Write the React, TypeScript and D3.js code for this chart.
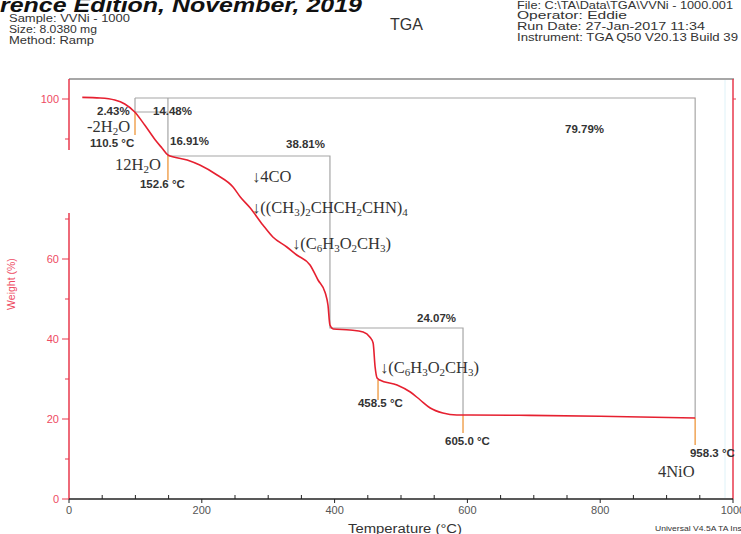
import React from "react";
import * as d3 from "d3";

// ---- data ----
const curveTemp = [20, 47, 69, 84, 99, 114, 130, 140, 149, 178, 197, 223, 247, 258, 273, 292, 307, 328, 343, 363, 375, 386, 390, 393, 398, 423, 443, 453, 458, 461, 464, 468, 494, 514, 529, 544, 563, 584, 604, 694, 800, 943];
const curveWeight = [100.4, 100.25, 99.75, 98.75, 96.75, 93.5, 89.75, 87.75, 86, 84.75, 83.5, 81, 78, 75.5, 72.75, 68.5, 65.5, 63, 61, 58.5, 54.75, 51.5, 48.5, 43.5, 42.5, 42.25, 41.75, 40.5, 39, 33, 30.25, 29.75, 28.5, 26.75, 24.75, 22.75, 21.5, 21, 21, 20.9, 20.7, 20.25];

const tempTicks = [0, 200, 400, 600, 800, 1000];
const tempMinorTicks = d3.range(50, 1000, 50).filter((v) => v % 200 !== 0);
const weightTicks = [0, 20, 40, 60, 80, 100];
const weightMinorTicks = [10, 30, 50, 70, 90];

// step brackets (temperature, weight)
const bracketPaths: [number, number][][] = [
  [[99.4, 100.25], [943, 100.25], [943, 20.25]],
  [[99.4, 100.25], [99.4, 96.75]],
  [[99.4, 96.75], [149, 96.75]],
  [[149, 100.25], [149, 85.75], [393, 85.75], [393, 42.75], [593.4, 42.75], [593.4, 21]],
];
const markerPaths: [number, number][][] = [
  [[99.4, 96.75], [99.4, 91]],
  [[149, 85.75], [149, 79.75]],
  [[465.4, 29.75], [465.4, 24.75]],
  [[593.4, 21], [593.4, 16.5]],
  [[943, 20.25], [943, 13.5]],
];

const percentLabels = [
  { text: "2.43%", t: 42.2, w: 96 },
  { text: "14.48%", t: 126.5, w: 96 },
  { text: "16.91%", t: 152.1, w: 88.5 },
  { text: "38.81%", t: 326.8, w: 87.75 },
  { text: "79.79%", t: 747, w: 91.5 },
  { text: "24.07%", t: 524.1, w: 44.25 },
];
const tempLabels = [
  { text: "110.5 °C", t: 31.6, w: 88 },
  { text: "152.6 °C", t: 106.9, w: 77.75 },
  { text: "458.5 °C", t: 435.2, w: 23 },
  { text: "605.0 °C", t: 566.3, w: 13.5 },
  { text: "958.3 °C", t: 935.2, w: 10.5 },
];
// formula segments: [text, isSubscript]
const formulaLabels: { parts: [string, boolean][]; t: number; w: number }[] = [
  { parts: [["-2H", false], ["2", true], ["O", false]], t: 27.1, w: 91.75 },
  { parts: [["12H", false], ["2", true], ["O", false]], t: 69.3, w: 82.25 },
  { parts: [["↓4CO", false]], t: 275.6, w: 79.25 },
  { parts: [["↓((CH", false], ["3", true], [")", false], ["2", true], ["CHCH", false], ["2", true], ["CHN)", false], ["4", true]], t: 275.6, w: 71.5 },
  { parts: [["↓(C", false], ["6", true], ["H", false], ["3", true], ["O", false], ["2", true], ["CH", false], ["3", true], [")", false]], t: 335.8, w: 62.5 },
  { parts: [["↓(C", false], ["6", true], ["H", false], ["3", true], ["O", false], ["2", true], ["CH", false], ["3", true], [")", false]], t: 468.4, w: 31.5 },
  { parts: [["4NiO", false]], t: 887, w: 5.5 },
];

const headerLeft = ["Sample: VVNi - 1000", "Size:  8.0380 mg", "Method: Ramp"];
const headerRight = ["File: C:\\TA\\Data\\TGA\\VVNi - 1000.001", "Operator: Eddie", "Run Date: 27-Jan-2017 11:34", "Instrument: TGA Q50 V20.13 Build 39"];

const SANS = "'Liberation Sans', Arial, sans-serif";
const SERIF = "'Liberation Serif', 'Times New Roman', serif";
const RED_AXIS = "#e8394d";
const RED_LABEL = "#ee4a62";
const RED_CURVE = "#e62030";
const GRAY = "#a6a6a6";
const ORANGE = "#f0a455";

export default function App() {
  const x = d3.scaleLinear().domain([0, 1000]).range([69, 733]);
  const y = d3.scaleLinear().domain([0, 100]).range([499, 99]);
  const line = d3
    .line<number>()
    .x((_, i) => x(curveTemp[i]))
    .y((d) => y(d))
    .curve(d3.curveMonotoneX);
  const seg = d3
    .line<[number, number]>()
    .x((d) => x(d[0]))
    .y((d) => y(d[1]));

  const leftW = [121, 88, 85];
  const rightW = [216, 110, 188, 221];

  return (
    <svg
      width={741}
      height={534}
      style={{ position: "fixed", left: 0, top: 0, background: "#fff" }}
      fontFamily={SANS}
    >
      <rect x={0} y={0} width={741} height={534} fill="#fff" />
      {/* header */}
      <text x={0} y={12} fontSize={21} fontWeight="bold" fontStyle="italic" fill="#111" textLength={362} lengthAdjust="spacingAndGlyphs">
        rence Edition, November, 2019
      </text>
      {headerLeft.map((s, i) => (
        <text key={s} x={9} y={22 + i * 10.8} fontSize={10.5} fill="#333" textLength={leftW[i]} lengthAdjust="spacingAndGlyphs">
          {s}
        </text>
      ))}
      <text x={390} y={30} fontSize={16} fill="#333">TGA</text>
      {headerRight.map((s, i) => (
        <text key={s} x={517} y={8.5 + i * 10.8} fontSize={10.5} fill="#333" textLength={rightW[i]} lengthAdjust="spacingAndGlyphs">
          {s}
        </text>
      ))}

      {/* frame */}
      <line x1={69} x2={734} y1={79} y2={79} stroke="#8a8a8a" strokeWidth={1.5} />
      <line x1={725} x2={725} y1={80} y2={498} stroke="#dff2f8" strokeWidth={1} />
      <line x1={733} x2={733} y1={79} y2={499} stroke={RED_AXIS} strokeWidth={1.5} />
      <line x1={733} x2={736} y1={y(100)} y2={y(100)} stroke={RED_AXIS} strokeWidth={1} />

      {/* brackets */}
      {bracketPaths.map((p, i) => (
        <path key={"b" + i} d={seg(p) || ""} fill="none" stroke={GRAY} strokeWidth={1.2} />
      ))}
      {markerPaths.map((p, i) => (
        <path key={"m" + i} d={seg(p) || ""} fill="none" stroke={ORANGE} strokeWidth={1.5} />
      ))}

      {/* curve */}
      <path d={line(curveWeight) || ""} fill="none" stroke={RED_CURVE} strokeWidth={1.6} />

      {/* y axis */}
      <line x1={69} x2={69} y1={79} y2={499} stroke={RED_AXIS} strokeWidth={1.5} />
      {weightTicks.map((v) => (
        <g key={"yt" + v}>
          <line x1={62} x2={69} y1={y(v)} y2={y(v)} stroke={RED_AXIS} strokeWidth={1} />
          <text x={59} y={y(v)} dy="0.35em" textAnchor="end" fontSize={11} fill={RED_LABEL}>
            {v}
          </text>
        </g>
      ))}
      {weightMinorTicks.map((v) => (
        <line key={"ym" + v} x1={65} x2={69} y1={y(v)} y2={y(v)} stroke={RED_AXIS} strokeWidth={1} />
      ))}
      {/* white-out patch over the axis */}
      <rect x={0} y={150} width={71} height={63} fill="#fff" />
      <text transform={`translate(15,${284}) rotate(-90)`} textAnchor="middle" fontSize={10.5} fill={RED_LABEL}>
        Weight (%)
      </text>

      {/* x axis */}
      <line x1={69} x2={733} y1={499} y2={499} stroke="#222" strokeWidth={1.5} />
      {tempTicks.map((v) => (
        <g key={"xt" + v}>
          <line x1={x(v)} x2={x(v)} y1={499} y2={503} stroke="#222" strokeWidth={1} />
          <text x={x(v)} y={514} textAnchor="middle" fontSize={11} fill="#555">
            {v}
          </text>
        </g>
      ))}
      {tempMinorTicks.map((v) => (
        <line key={"xm" + v} x1={x(v)} x2={x(v)} y1={495} y2={499} stroke="#222" strokeWidth={1} />
      ))}
      <text x={348} y={533} fontSize={12} fill="#333" textLength={114} lengthAdjust="spacingAndGlyphs">
        Temperature (°C)
      </text>
      <text x={655} y={531} fontSize={8} fill="#333" textLength={120} lengthAdjust="spacingAndGlyphs">
        Universal V4.5A TA Instruments
      </text>

      {/* labels */}
      {percentLabels.map((l) => (
        <text key={l.text + l.t} x={x(l.t)} y={y(l.w)} fontSize={11.5} fontWeight="bold" fill="#333">
          {l.text}
        </text>
      ))}
      {tempLabels.map((l) => (
        <text key={l.text} x={x(l.t)} y={y(l.w)} fontSize={11.5} fontWeight="bold" fill="#333">
          {l.text}
        </text>
      ))}
      {formulaLabels.map((l, i) => (
        <text key={"f" + i} x={x(l.t)} y={y(l.w)} fontSize={16.5} fontFamily={SERIF} fill="#333">
          {l.parts.map(([s, sub], j) => (
            <tspan key={j} fontSize={sub ? 11 : 16.5} dy={sub ? 3 : j > 0 && l.parts[j - 1][1] ? -3 : 0}>
              {s}
            </tspan>
          ))}
        </text>
      ))}
    </svg>
  );
}
